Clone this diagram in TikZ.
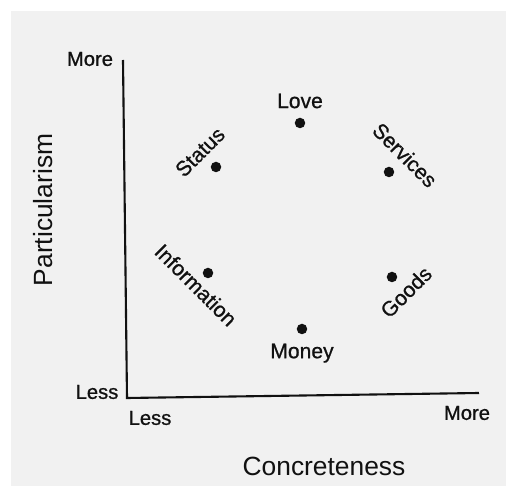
\documentclass[tikz,border=0pt]{standalone}
\usepackage{fontspec}
\setmainfont{Liberation Sans}
\newfontfamily\scanfont[FakeBold=0.8]{Liberation Sans}
\usetikzlibrary{positioning}
\definecolor{mPaper}{HTML}{F1F1F1}
\definecolor{mInk}{HTML}{111111}
\tikzset{
  resource/.style={circle, fill=mInk, inner sep=0pt, minimum size=0.21cm},
  itemlabel/.style={font=\scanfont\fontsize{12}{14}\selectfont, text=mInk, inner sep=1pt},
  axislabel/.style={font=\fontsize{15}{18}\selectfont, text=mInk},
  endlabel/.style={font=\scanfont\fontsize{11.5}{14}\selectfont, text=mInk, inner sep=1pt}
}
\begin{document}
\begin{tikzpicture}
    \useasboundingbox (0,0) rectangle (10.12,9.72);
    % paper
    \fill[mPaper] (0.22,0) rectangle (10.12,9.50);
    % axes
    \coordinate (ytop) at (2.46,8.52);
    \coordinate (origin) at (2.54,1.76);
    \coordinate (xend) at (9.58,1.86);
    \draw[mInk, line width=1.2pt] (ytop) -- (origin) -- (xend);
    \node[endlabel] (yMore) at (1.80,8.54) {More};
    \node[endlabel] (yLess) at (1.94,1.88) {Less};
    \node[endlabel] (xLess) at (3.00,1.36) {Less};
    \node[endlabel] (xMore) at (9.34,1.46) {More};
    \node[axislabel] (xTitle) at (6.48,0.40) {Concreteness};
    \node[axislabel, rotate=90] (yTitle) at (0.86,5.52) {Particularism};
    % the six resources
    \node[resource] (love) at (6.00,7.26) {};
    \node[resource] (status) at (4.32,6.38) {};
    \node[resource] (services) at (7.78,6.28) {};
    \node[resource] (information) at (4.16,4.26) {};
    \node[resource] (goods) at (7.84,4.18) {};
    \node[resource] (money) at (6.04,3.14) {};
    \node[itemlabel, above=0.14cm of love] (loveLabel) {Love};
    \node[itemlabel, below=0.14cm of money] (moneyLabel) {Money};
    \node[itemlabel, rotate=45] (statusLabel) at (4.00,6.68) {Status};
    \node[itemlabel, rotate=-45] (servicesLabel) at (8.10,6.62) {Services};
    \node[itemlabel, rotate=-45] (informationLabel) at (3.92,4.02) {Information};
    \node[itemlabel, rotate=45] (goodsLabel) at (8.12,3.88) {Goods};
\end{tikzpicture}
\end{document}
